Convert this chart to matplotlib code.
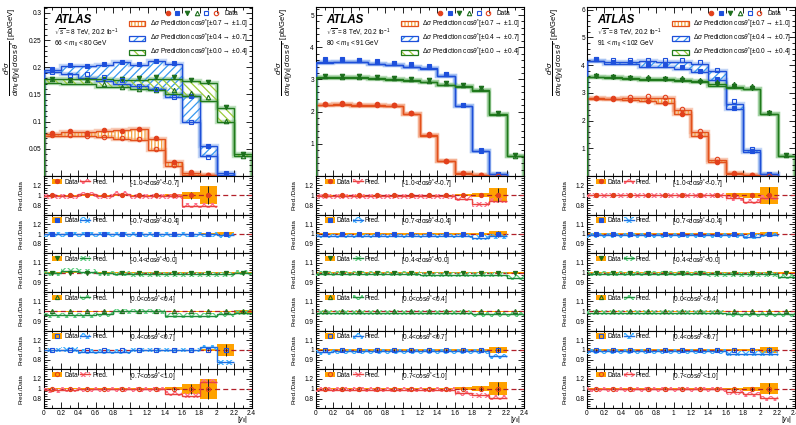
import numpy as np
import matplotlib
matplotlib.use('Agg')
import matplotlib.pyplot as plt
from matplotlib.patches import Patch
from matplotlib.lines import Line2D
from matplotlib.legend_handler import HandlerTuple
from matplotlib.ticker import MultipleLocator, FormatStrFormatter

plt.rcParams['font.family'] = ['Liberation Sans', 'DejaVu Sans']
plt.rcParams['mathtext.fontset'] = 'custom'
plt.rcParams['mathtext.rm'] = 'Liberation Sans'
plt.rcParams['mathtext.it'] = 'Liberation Sans:italic'
plt.rcParams['mathtext.bf'] = 'Liberation Sans:bold'
plt.rcParams['hatch.linewidth'] = 0.9

# |y_ll| bin edges
y_edges = [0.0, 0.2, 0.4, 0.6, 0.8, 1.0, 1.2, 1.4, 1.6, 1.8, 2.0, 2.2, 2.4]

mass_labels = [r'66 < $m_{ll}$ < 80 GeV', r'80 < $m_{ll}$ < 91 GeV', r'91 < $m_{ll}$ < 102 GeV']
cos_labels = [r'[-1.0<cos$\theta^{*}$<-0.7]', r'[-0.7<cos$\theta^{*}$<-0.4]',
              r'[-0.4<cos$\theta^{*}$<0.0]', r'[0.0<cos$\theta^{*}$<0.4]',
              r'[0.4<cos$\theta^{*}$<0.7]', r'[0.7<cos$\theta^{*}$<1.0]']
band_labels = [r'$\Delta\sigma$ Prediction cos$\theta^{*}$[$\pm$0.7$\rightarrow\pm$1.0]',
               r'$\Delta\sigma$ Prediction cos$\theta^{*}$[$\pm$0.4$\rightarrow\pm$0.7]',
               r'$\Delta\sigma$ Prediction cos$\theta^{*}$[$\pm$0.0$\rightarrow\pm$0.4]']

# measured d3sigma [pb/GeV], one list per cos(theta*) bin
xsec_66_80 = [
    [0.0787, 0.0835, 0.0800, 0.0850, 0.0820, 0.0870, 0.0700, 0.0255, 0.0068, 0.0025],
    [0.197, 0.204, 0.203, 0.206, 0.210, 0.206, 0.212, 0.208, 0.148, 0.055, 0.005],
    [0.179, 0.176, 0.177, 0.179, 0.179, 0.180, 0.182, 0.182, 0.177, 0.173, 0.127, 0.040],
    [0.179, 0.176, 0.176, 0.169, 0.164, 0.160, 0.159, 0.158, 0.153, 0.145, 0.102, 0.037],
    [0.192, 0.185, 0.187, 0.182, 0.176, 0.165, 0.160, 0.146, 0.099, 0.035, 0.002],
    [0.0760, 0.0750, 0.0740, 0.0725, 0.0700, 0.0680, 0.0490, 0.0210, 0.0030, 0.0012],
]
xsec_80_91 = [
    [2.25, 2.26, 2.24, 2.23, 2.22, 1.96, 1.29, 0.47, 0.085, 0.025, 0.006],
    [3.62, 3.62, 3.61, 3.56, 3.52, 3.47, 3.41, 3.18, 2.22, 0.80, 0.06],
    [3.12, 3.11, 3.11, 3.08, 3.05, 3.01, 2.97, 2.90, 2.84, 2.74, 1.96, 0.64],
    [3.10, 3.09, 3.09, 3.07, 3.04, 3.00, 2.96, 2.88, 2.82, 2.72, 1.95, 0.63],
    [3.60, 3.60, 3.59, 3.54, 3.50, 3.45, 3.39, 3.16, 2.20, 0.79, 0.06],
    [2.24, 2.25, 2.23, 2.22, 2.21, 1.95, 1.28, 0.47, 0.085, 0.025, 0.006],
]
xsec_91_102 = [
    [2.80, 2.79, 2.73, 2.69, 2.63, 2.24, 1.46, 0.51, 0.09, 0.025, 0.006],
    [4.22, 4.12, 4.10, 4.01, 3.99, 3.92, 3.80, 3.50, 2.46, 0.90, 0.06],
    [3.60, 3.57, 3.55, 3.51, 3.49, 3.46, 3.41, 3.31, 3.24, 3.17, 2.28, 0.74],
    [3.63, 3.61, 3.59, 3.56, 3.54, 3.52, 3.47, 3.38, 3.31, 3.24, 2.32, 0.76],
    [4.22, 4.19, 4.19, 4.20, 4.18, 4.19, 4.12, 3.83, 2.72, 0.98, 0.07],
    [2.81, 2.82, 2.84, 2.87, 2.84, 2.42, 1.62, 0.60, 0.11, 0.03, 0.007],
]

# prediction / data
ratio_66_80 = [
    [0.98, 0.98, 1.02, 0.985, 1.035, 0.985, 0.98, 0.985, 0.79, 0.79],
    [0.99, 0.99, 0.995, 0.99, 0.995, 0.99, 0.995, 0.99, 0.995, 0.995, 0.97],
    [0.993, 1.018, 1.007, 0.995, 0.99, 0.985, 0.985, 0.985, 0.985, 0.985, 0.985, 1.0],
    [0.96, 0.96, 0.96, 0.97, 1.0, 1.0, 1.0, 0.957, 0.957, 0.957, 0.97, 0.985],
    [1.0, 1.01, 0.965, 0.965, 0.965, 1.0, 1.0, 1.0, 1.0, 1.055, 0.75],
    [0.965, 0.975, 0.985, 0.985, 0.985, 0.985, 0.985, 0.9, 0.86, 1.14],
]
ratio_80_91 = [
    [0.985, 0.985, 0.985, 0.985, 0.985, 0.985, 0.985, 0.985, 0.93, 0.82, 0.89],
    [0.98, 0.98, 0.98, 0.98, 0.98, 0.98, 0.98, 0.98, 0.98, 0.96, 0.975],
    [0.99, 0.99, 0.99, 0.99, 0.99, 0.99, 0.98, 0.98, 0.98, 0.98, 0.98, 0.95],
    [0.985, 0.985, 0.985, 0.985, 0.985, 0.985, 0.985, 0.985, 0.985, 0.97, 0.97, 0.97],
    [0.978, 0.985, 0.985, 0.985, 0.985, 0.985, 0.985, 0.985, 0.985, 0.985, 0.935],
    [0.98, 0.98, 0.98, 0.98, 0.98, 0.98, 0.98, 0.98, 0.91, 0.87, 0.82],
]
ratio_91_102 = [
    [1.0, 1.0, 1.0, 1.0, 1.0, 1.0, 1.0, 1.0, 0.94, 0.87, 0.95],
    [0.985, 0.985, 0.985, 0.985, 0.985, 0.985, 0.985, 0.985, 0.985, 0.97, 0.99],
    [0.99, 0.99, 0.99, 0.99, 0.99, 0.99, 0.99, 0.985, 0.985, 0.985, 0.985, 0.96],
    [0.985, 0.985, 0.985, 0.985, 0.985, 0.985, 0.985, 0.985, 0.97, 0.97, 0.97, 0.97],
    [0.985, 0.985, 0.985, 0.985, 0.985, 0.985, 0.985, 0.985, 0.96, 0.96, 0.96],
    [0.985, 0.985, 0.985, 0.985, 0.985, 0.985, 0.985, 0.985, 0.93, 0.89, 0.81],
]

# relative data uncertainty
unc_66_80 = [
    [0.01, 0.01, 0.01, 0.01, 0.01, 0.01, 0.015, 0.03, 0.07, 0.18],
    [0.01, 0.01, 0.01, 0.01, 0.01, 0.01, 0.01, 0.01, 0.01, 0.015, 0.04],
    [0.006, 0.006, 0.006, 0.006, 0.006, 0.006, 0.006, 0.006, 0.006, 0.006, 0.006, 0.01],
    [0.006, 0.006, 0.006, 0.006, 0.006, 0.006, 0.006, 0.006, 0.006, 0.006, 0.006, 0.012],
    [0.01, 0.01, 0.01, 0.01, 0.01, 0.01, 0.01, 0.01, 0.01, 0.02, 0.12],
    [0.01, 0.01, 0.01, 0.01, 0.01, 0.01, 0.015, 0.03, 0.1, 0.2],
]
unc_80_91 = [
    [0.008, 0.008, 0.008, 0.008, 0.008, 0.008, 0.008, 0.008, 0.02, 0.04, 0.14],
    [0.006, 0.006, 0.006, 0.006, 0.006, 0.006, 0.006, 0.006, 0.006, 0.008, 0.03],
    [0.005, 0.005, 0.005, 0.005, 0.005, 0.005, 0.005, 0.005, 0.005, 0.005, 0.005, 0.01],
    [0.005, 0.005, 0.005, 0.005, 0.005, 0.005, 0.005, 0.005, 0.005, 0.005, 0.005, 0.005],
    [0.006, 0.006, 0.006, 0.006, 0.006, 0.006, 0.006, 0.006, 0.006, 0.006, 0.03],
    [0.008, 0.008, 0.008, 0.008, 0.008, 0.008, 0.008, 0.008, 0.03, 0.05, 0.13],
]
unc_91_102 = [
    [0.008, 0.008, 0.008, 0.008, 0.008, 0.008, 0.008, 0.015, 0.04, 0.05, 0.17],
    [0.006, 0.006, 0.006, 0.006, 0.006, 0.006, 0.006, 0.006, 0.006, 0.006, 0.02],
    [0.005, 0.005, 0.005, 0.005, 0.005, 0.005, 0.005, 0.005, 0.005, 0.005, 0.005, 0.01],
    [0.005, 0.005, 0.005, 0.005, 0.005, 0.005, 0.005, 0.005, 0.005, 0.005, 0.005, 0.005],
    [0.006, 0.006, 0.006, 0.006, 0.006, 0.006, 0.006, 0.006, 0.006, 0.006, 0.03],
    [0.008, 0.008, 0.008, 0.008, 0.008, 0.008, 0.008, 0.008, 0.02, 0.04, 0.11],
]

xsec_all = [xsec_66_80, xsec_80_91, xsec_91_102]
ratio_all = [ratio_66_80, ratio_80_91, ratio_91_102]
unc_all = [unc_66_80, unc_80_91, unc_91_102]

main_ymax = [0.311, 5.25, 6.1]
main_yticks = [[0.05, 0.1, 0.15, 0.2, 0.25, 0.3], [1, 2, 3, 4, 5], [1, 2, 3, 4, 5, 6]]
main_minor = [0.01, 0.2, 0.2]
ratio_step = [[0.2, 0.2, 0.1, 0.1, 0.2, 0.2],
              [0.2, 0.1, 0.1, 0.1, 0.1, 0.2],
              [0.2, 0.1, 0.1, 0.1, 0.1, 0.2]]

# styles per cos(theta*) bin
mk_shape = ['o', 's', 'v', '^', 's', 'o']
mk_color = ['#e2401c', '#1e50dc', '#1b6e1b', '#1b6e1b', '#1e50dc', '#e2401c']
mk_filled = [True, True, True, False, False, False]
pred_line = ['#e8443e', '#1f6fe0', '#1f8a3a', '#1f8a3a', '#1f6fe0', '#e8443e']
pred_hatch = ['#ff6f8c', '#3cb0ff', '#5fcf80', '#5fcf80', '#3cb0ff', '#ff6f8c']

# main-panel bands: (backward bin, forward bin)
pairs = [(0, 5), (1, 4), (2, 3)]
band_line = ['#e2511c', '#1e4fd8', '#207a1c']
band_glow = ['#f4a07a', '#90b4f0', '#8cc88c']
band_hcol = ['#f5a33c', '#3898f0', '#9ccb38']
band_hatch = ['|||||', '////', '\\\\\\\\']

W, H = 796, 425
col_x = [43.5, 316.0, 587.0]
col_w = 208.0
main_top, main_bot, ratio_bot = 7.0, 176.0, 408.0
rh = (ratio_bot - main_bot) / 6
fs = 4.7


def box(x0, top, w, h):
    return [x0 / W, 1 - (top + h) / H, w / W, h / H]


def style_axes(ax):
    ax.tick_params(which='both', direction='in', top=True, right=True, labelsize=fs, width=0.6, pad=1.5)
    ax.tick_params(which='major', length=4)
    ax.tick_params(which='minor', length=2)
    for sp in ax.spines.values():
        sp.set_linewidth(0.8)
    ax.set_xlim(0, 2.4)
    ax.xaxis.set_major_locator(MultipleLocator(0.2))
    ax.xaxis.set_minor_locator(MultipleLocator(0.1))
    ax.xaxis.set_major_formatter(FormatStrFormatter('%g'))


fig = plt.figure(figsize=(W / 100, H / 100), dpi=100)
edges_all = np.array(y_edges)

for ci in range(3):
    xsec, ratio, unc = xsec_all[ci], ratio_all[ci], unc_all[ci]

    # ---- cross-section panel
    ax = fig.add_axes(box(col_x[ci], main_top, col_w, main_bot - main_top))
    style_axes(ax)
    ax.set_ylim(0, main_ymax[ci])
    ax.set_yticks(main_yticks[ci])
    ax.yaxis.set_minor_locator(MultipleLocator(main_minor[ci]))
    ax.yaxis.set_major_formatter(FormatStrFormatter('%g'))
    ax.tick_params(labelbottom=False)

    for pi, (a, b) in enumerate(pairs):
        n = len(xsec[a])
        e = edges_all[:n + 1]
        pa = np.array(xsec[a]) * np.array(ratio[a])
        pb = np.array(xsec[b]) * np.array(ratio[b])
        ax.stairs(pb, e, baseline=pa, fill=True, facecolor='none', edgecolor=band_hcol[pi],
                  hatch=band_hatch[pi], lw=0, zorder=2)
        for p in (pa, pb):
            ax.stairs(p, e, baseline=0, color=band_glow[pi], lw=3.2, alpha=0.55, zorder=1)
            ax.stairs(p, e, baseline=0, color=band_line[pi], lw=1.0, zorder=3)

    for k in range(6):
        n = len(xsec[k])
        c = (edges_all[:n] + edges_all[1:n + 1]) / 2
        ax.plot(c, xsec[k], ls='none', marker=mk_shape[k], ms=3.2,
                mfc=mk_color[k] if mk_filled[k] else 'none', mec=mk_color[k], mew=0.8, zorder=5)

    ax.text(0.05, 0.925, 'ATLAS', transform=ax.transAxes, fontsize=8.3, fontweight='bold',
            style='italic', va='center')
    ax.text(0.05, 0.845, r'$\sqrt{s}$ = 8 TeV, 20.2 fb$^{-1}$', transform=ax.transAxes,
            fontsize=fs, va='center')
    ax.text(0.05, 0.78, mass_labels[ci], transform=ax.transAxes, fontsize=fs, va='center')

    data_handle = tuple(Line2D([], [], ls='none', marker=mk_shape[k], ms=3.2,
                               mfc=mk_color[k] if mk_filled[k] else 'none', mec=mk_color[k], mew=0.8)
                        for k in range(6))
    leg1 = ax.legend([data_handle], ['Data'], handler_map={tuple: HandlerTuple(ndivide=None, pad=0.9)},
                     loc='upper right', bbox_to_anchor=(0.95, 1.0), handlelength=8.0,
                     handletextpad=1.0, frameon=False, fontsize=fs, borderaxespad=0.2, borderpad=0.25)
    ax.add_artist(leg1)
    band_handles = [(Patch(facecolor='none', edgecolor=band_hcol[pi], hatch=band_hatch[pi], lw=0),
                     Patch(facecolor='none', edgecolor=band_line[pi], lw=0.9)) for pi in range(3)]
    ax.legend(band_handles, band_labels, loc='upper right', bbox_to_anchor=(0.995, 0.955),
              handlelength=2.5, handleheight=0.8, handletextpad=0.7, labelspacing=0.15,
              frameon=False, fontsize=fs, borderaxespad=0.2, borderpad=0.2)

    ax.set_ylabel(r'$\dfrac{d^{3}\sigma}{dm_{ll}\,d|y_{ll}|\,d\cos\theta^{*}}$ [pb/GeV]',
                  fontsize=5.5, loc='top')
    ax.yaxis.set_label_coords(-0.1, 1.0)

    # ---- ratio panels
    for k in range(6):
        rax = fig.add_axes(box(col_x[ci], main_bot + k * rh, col_w, rh))
        style_axes(rax)
        s = ratio_step[ci][k]
        rax.set_ylim(1 - 1.95 * s, 1 + 1.95 * s)
        rax.set_yticks([1 - s, 1, 1 + s])
        rax.yaxis.set_minor_locator(MultipleLocator(s / 4))
        rax.yaxis.set_major_formatter(FormatStrFormatter('%g'))
        if k < 5:
            rax.tick_params(labelbottom=False)

        n = len(xsec[k])
        e = edges_all[:n + 1]
        c = (e[:-1] + e[1:]) / 2
        u = np.array(unc[k])
        r = np.array(ratio[k])
        hw = 0.25 * s

        rax.bar(c, 2 * u, bottom=1 - u, width=0.2, color='#ffa200', lw=0, zorder=1)
        rax.axhline(1, color='#b3202a', ls=(0, (4, 2.5)), lw=0.9, zorder=2)
        rax.stairs(r + hw, e, baseline=r - hw, fill=True, facecolor='none', edgecolor=pred_hatch[k],
                   hatch='xxxx', lw=0, zorder=3)
        rax.stairs(r, e, baseline=None, color=pred_line[k], lw=1.0, zorder=4)
        rax.errorbar(c, np.ones(n), yerr=u, fmt=mk_shape[k], ms=3.0,
                     mfc=mk_color[k] if mk_filled[k] else 'none', mec=mk_color[k], mew=0.8,
                     ecolor='#222222', elinewidth=0.7, capsize=0, zorder=5)

        h_data = (Patch(facecolor='#ffa200', edgecolor='none'),
                  Line2D([], [], ls='none', marker=mk_shape[k], ms=3.0,
                         mfc=mk_color[k] if mk_filled[k] else 'none', mec=mk_color[k], mew=0.8))
        h_pred = (Patch(facecolor='none', edgecolor=pred_hatch[k], hatch='xxxx', lw=0),
                  Line2D([], [], color=pred_line[k], lw=1.0))
        rax.legend([h_data, h_pred], ['Data', 'Pred.'], loc='upper left', bbox_to_anchor=(0.03, 1.0),
                   ncol=2, frameon=False, fontsize=fs, handlelength=1.5, handleheight=0.9,
                   handletextpad=0.3, columnspacing=0.4, borderaxespad=0.15, borderpad=0.25)
        rax.text(0.41, 0.79, cos_labels[k], transform=rax.transAxes, fontsize=fs, va='center')
        rax.set_ylabel('Pred./Data', fontsize=4.5)
        rax.yaxis.set_label_coords(-0.095, 0.5)

    rax.text(0.985, -0.43, r'$|y_{ll}|$', transform=rax.transAxes, fontsize=5, ha='right', va='bottom')

fig.savefig('out.png', dpi=100)
